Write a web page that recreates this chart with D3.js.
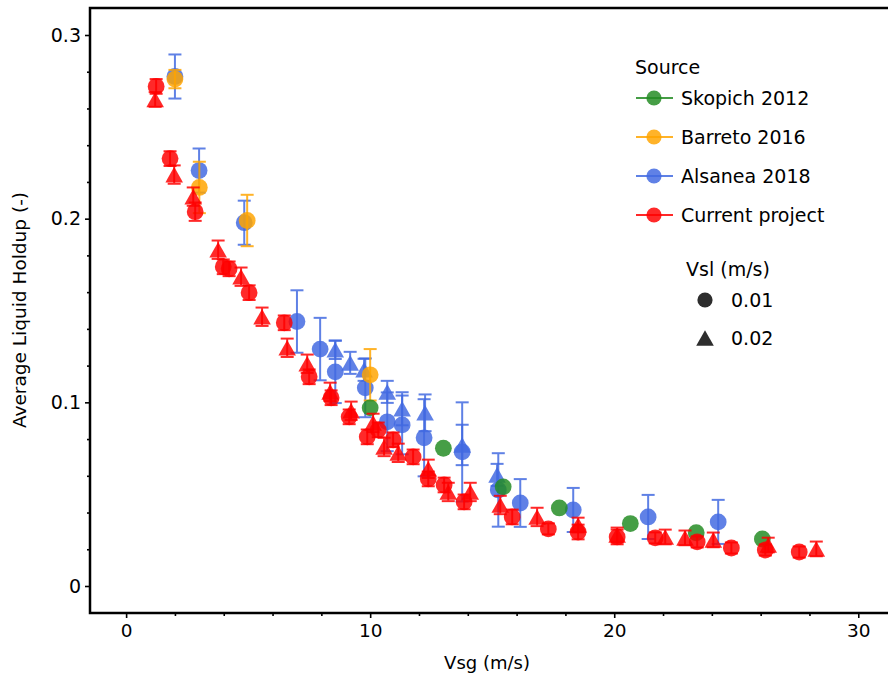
<!DOCTYPE html>
<html><head><meta charset="utf-8">
<script src="https://cdn.jsdelivr.net/npm/d3@7"></script>
<style>body{margin:0;background:#fff} svg{display:block} text{font-family:"DejaVu Sans",sans-serif;fill:#000}</style>
</head><body><svg id="c" width="888" height="676"></svg>
<script>
// ---- data ----
const skopichX = [10.0, 13.0, 15.45, 17.75, 20.66, 23.36, 26.07];
const skopichY = [0.097, 0.075, 0.054, 0.0425, 0.034, 0.029, 0.0256];

const barretoX = [2.0, 3.0, 4.96, 10.0];
const barretoY = [0.276, 0.217, 0.199, 0.115];
const barretoErr = [0.005, 0.014, 0.014, 0.014];

const alsaneaCircX = [2.0, 2.99, 4.84, 7.0, 7.95, 8.57, 9.8, 10.7, 11.31, 12.21, 13.77, 15.25, 16.15, 18.32, 21.39, 24.26];
const alsaneaCircY = [0.2774, 0.2262, 0.1978, 0.144, 0.129, 0.1166, 0.1079, 0.0894, 0.0877, 0.0807, 0.073, 0.0523, 0.0452, 0.0414, 0.0376, 0.0349];
const alsaneaCircErr = [0.012, 0.012, 0.012, 0.017, 0.017, 0.017, 0.016, 0.016, 0.016, 0.021, 0.027, 0.020, 0.013, 0.012, 0.012, 0.012];

const alsaneaTriX = [8.57, 9.18, 9.75, 10.7, 11.31, 12.25, 13.77, 15.2];
const alsaneaTriY = [0.1286, 0.1215, 0.1177, 0.1057, 0.0965, 0.0943, 0.0768, 0.0605];
const alsaneaTriErr = [0.005, 0.006, 0.006, 0.006, 0.009, 0.010, 0.011, 0.006];

const currentCircX = [1.23, 1.80, 2.83, 3.98, 4.22, 5.04, 6.48, 7.5, 8.40, 9.14, 9.88, 10.33, 10.94, 11.76, 12.38, 13.03, 13.85, 15.82, 17.3, 18.52, 20.12, 21.68, 23.4, 24.8, 26.19, 27.58];
const currentCircY = [0.272, 0.2327, 0.2038, 0.1738, 0.1727, 0.1597, 0.1433, 0.1139, 0.1025, 0.0921, 0.0812, 0.0850, 0.0796, 0.0703, 0.0583, 0.0550, 0.0458, 0.0376, 0.0311, 0.0294, 0.0267, 0.0262, 0.0240, 0.0207, 0.0196, 0.0185];
const currentCircErr = [0.004, 0.004, 0.005, 0.004, 0.004, 0.004, 0.004, 0.004, 0.004, 0.004, 0.004, 0.004, 0.004, 0.004, 0.004, 0.004, 0.004, 0.004, 0.003, 0.004, 0.004, 0.003, 0.003, 0.003, 0.003, 0.003];

const currentTriX = [1.19, 1.97, 2.75, 3.77, 4.71, 5.57, 6.6, 7.42, 8.36, 9.22, 10.12, 10.57, 11.15, 12.38, 13.2, 14.1, 15.33, 16.84, 18.52, 20.12, 22.09, 22.9, 24.06, 26.31, 28.28];
const currentTriY = [0.2649, 0.224, 0.212, 0.1831, 0.1684, 0.1466, 0.1297, 0.121, 0.1057, 0.0954, 0.0888, 0.0757, 0.0725, 0.0638, 0.0512, 0.0512, 0.0441, 0.0376, 0.0332, 0.0278, 0.0267, 0.0262, 0.0251, 0.0223, 0.0202];
const currentTriErr = [0.004, 0.005, 0.005, 0.005, 0.005, 0.005, 0.005, 0.005, 0.005, 0.005, 0.005, 0.005, 0.005, 0.005, 0.005, 0.005, 0.005, 0.005, 0.004, 0.004, 0.004, 0.004, 0.004, 0.004, 0.004];

const sourceNames = ["Skopich 2012", "Barreto 2016", "Alsanea 2018", "Current project"];
const sourceColors = ["#228B22", "#FFA500", "#4169E1", "#FF0000"];
const vslLabels = ["0.01", "0.02"];
const xTicks = [0, 10, 20, 30];
const yTicks = [0, 0.1, 0.2, 0.3];

// ---- chart ----
const svg = d3.select("#c");
const x = d3.scaleLinear().domain([-1.48, 31.3]).range([90, 890]);
const y = d3.scaleLinear().domain([-0.0147, 0.3147]).range([613, 8]);

const zip = (xs, ys, es) => xs.map((v, i) => ({x: v, y: ys[i], e: es ? es[i] : null}));
const series = [
  {pts: zip(alsaneaCircX, alsaneaCircY, alsaneaCircErr), c: sourceColors[2], shape: "circle"},
  {pts: zip(alsaneaTriX, alsaneaTriY, alsaneaTriErr), c: sourceColors[2], shape: "tri"},
  {pts: zip(barretoX, barretoY, barretoErr), c: sourceColors[1], shape: "circle"},
  {pts: zip(skopichX, skopichY, null), c: sourceColors[0], shape: "circle"},
  {pts: zip(currentCircX, currentCircY, currentCircErr), c: sourceColors[3], shape: "circle"},
  {pts: zip(currentTriX, currentTriY, currentTriErr), c: sourceColors[3], shape: "tri"},
];

const R = 8.4, TW = 8.8, TH = 7.8;
const triPath = `M0,${-TH}L${TW},${TH}L${-TW},${TH}Z`;
const alpha = 0.84;

const plot = svg.append("g");
series.forEach(s => {
  const g = plot.append("g");
  const eb = s.pts.filter(p => p.e != null);
  const eg = g.append("g").attr("stroke", s.c).attr("stroke-width", 2).attr("opacity", alpha);
  eg.selectAll("line.v").data(eb).join("line")
    .attr("x1", d => x(d.x)).attr("x2", d => x(d.x))
    .attr("y1", d => y(d.y + d.e)).attr("y2", d => y(d.y - d.e));
  eg.selectAll("line.t").data(eb).join("line")
    .attr("x1", d => x(d.x) - 6.5).attr("x2", d => x(d.x) + 6.5)
    .attr("y1", d => y(d.y + d.e)).attr("y2", d => y(d.y + d.e));
  eg.selectAll("line.b").data(eb).join("line")
    .attr("x1", d => x(d.x) - 6.5).attr("x2", d => x(d.x) + 6.5)
    .attr("y1", d => y(d.y - d.e)).attr("y2", d => y(d.y - d.e));
  if (s.shape === "circle") {
    g.selectAll("circle").data(s.pts).join("circle")
      .attr("cx", d => x(d.x)).attr("cy", d => y(d.y)).attr("r", R)
      .attr("fill", s.c).attr("fill-opacity", alpha);
  } else {
    g.selectAll("path.m").data(s.pts).join("path")
      .attr("transform", d => `translate(${x(d.x)},${y(d.y)})`)
      .attr("d", triPath).attr("fill", s.c).attr("fill-opacity", alpha);
  }
});

// axes
const yMinor = d3.range(0.02, 0.3, 0.02).filter(v => Math.abs(Math.round(v * 10) - v * 10) > 1e-6);
const xMinor = d3.range(2, 31, 2).filter(v => v % 10 !== 0);

function styleAxis(g) { g.select(".domain").remove(); g.selectAll(".tick line").attr("stroke", "#000").attr("stroke-width", 1.6); g.selectAll("text").style("font-family", "'DejaVu Sans',sans-serif").attr("fill", "#000"); }

svg.append("g").attr("transform", "translate(90,0)")
  .call(d3.axisLeft(y).tickValues(yTicks).tickSize(5).tickPadding(4).tickFormat(d => d === 0 ? "0" : d3.format(".1f")(d)))
  .call(styleAxis).selectAll("text").style("font-size", "19px");
svg.append("g").attr("transform", "translate(90,0)")
  .call(d3.axisLeft(y).tickValues(yMinor).tickSize(3).tickFormat(""))
  .call(styleAxis);
svg.append("g").attr("transform", "translate(0,613)")
  .call(d3.axisBottom(x).tickValues(xTicks).tickSize(5).tickPadding(6).tickFormat(d3.format("d")))
  .call(styleAxis).selectAll("text").style("font-size", "18.5px");
svg.append("g").attr("transform", "translate(0,613)")
  .call(d3.axisBottom(x).tickValues(xMinor).tickSize(3).tickFormat(""))
  .call(styleAxis);

// spines
const sp = svg.append("g").attr("stroke", "#000").attr("stroke-width", 2.5).attr("fill", "none");
sp.append("rect").attr("x", x.range()[0]).attr("y", y.range()[1]).attr("width", x.range()[1] - x.range()[0]).attr("height", y.range()[0] - y.range()[1]);

// labels
svg.append("text").attr("x", 487).attr("y", 669).attr("text-anchor", "middle").style("font-size", "18px").text("Vsg (m/s)");
svg.append("text").attr("transform", "translate(26,310) rotate(-90)").attr("text-anchor", "middle").style("font-size", "18.5px").text("Average Liquid Holdup (-)");

// legend
const lg = svg.append("g");
lg.append("text").attr("x", 635).attr("y", 74).style("font-size", "19px").text("Source");
const rowY = [98, 137, 176, 215];
sourceNames.forEach((n, i) => {
  lg.append("line").attr("x1", 636).attr("x2", 673).attr("y1", rowY[i]).attr("y2", rowY[i])
    .attr("stroke", sourceColors[i]).attr("stroke-width", 2).attr("opacity", alpha);
  lg.append("circle").attr("cx", 654).attr("cy", rowY[i]).attr("r", 7.6).attr("fill", sourceColors[i]).attr("fill-opacity", alpha);
  lg.append("text").attr("x", 681).attr("y", rowY[i]).attr("dy", "0.36em").style("font-size", "19px").text(n);
});
lg.append("text").attr("x", 686).attr("y", 269).attr("dy", "0.36em").style("font-size", "19px").text("Vsl (m/s)");
lg.append("circle").attr("cx", 705).attr("cy", 300).attr("r", 7.6).attr("fill", "#222").attr("fill-opacity", 0.95);
lg.append("text").attr("x", 731).attr("y", 300).attr("dy", "0.36em").style("font-size", "19px").text(vslLabels[0]);
lg.append("path").attr("transform", "translate(705,338)").attr("d", triPath).attr("fill", "#222").attr("fill-opacity", 0.95);
lg.append("text").attr("x", 731).attr("y", 338).attr("dy", "0.36em").style("font-size", "19px").text(vslLabels[1]);
</script></body></html>
